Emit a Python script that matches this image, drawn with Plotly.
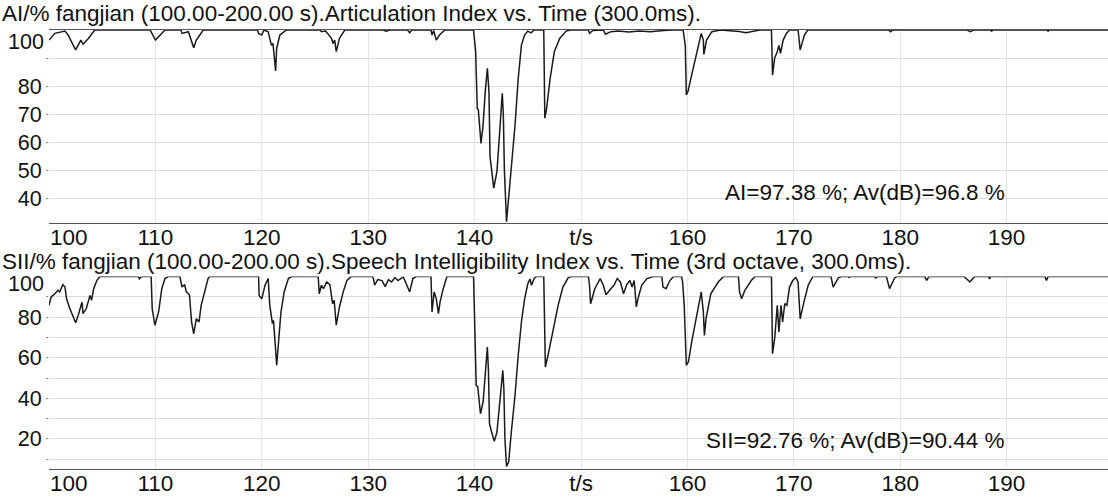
import plotly.graph_objects as go

# ---------------- data ----------------
ai_t = [100.0, 100.55, 101.5, 101.8, 102.5, 102.8, 103.0, 103.2, 103.7, 104.3,
        109.5, 109.6, 110.0, 110.3, 110.9,
        112.4, 112.5, 113.1, 113.4, 113.6, 113.85, 114.5,
        119.6, 119.7, 120.0, 120.2, 120.6, 120.9, 121.05, 121.3, 121.4, 121.7, 122.3,
        125.5, 125.6, 126.0, 126.55, 126.7, 126.85, 127.0, 127.3, 127.8,
        131.4, 131.7, 132.0, 133.7, 133.9, 134.1, 135.9, 136.0, 136.15, 136.4, 136.7, 137.2,
        139.9, 140.1, 140.25, 140.35, 140.6, 140.8, 141.0, 141.2, 141.35, 141.45, 141.8, 142.1,
        142.4, 142.6, 142.7, 142.8, 143.0, 143.3, 143.8, 144.1, 144.4, 144.7, 145.0, 145.3, 145.6,
        146.5, 146.6, 146.75, 147.1, 147.5, 148.0, 148.6, 149.0,
        150.7, 150.8, 151.1, 152.1, 152.3, 152.8, 153.5, 154.5, 155.5, 156.5, 157.5, 158.5,
        159.6, 159.8, 159.9, 160.05, 160.4, 160.9, 161.3, 161.5, 161.55, 161.8, 162.3, 163.1,
        164.9, 165.5, 166.2, 166.8,
        167.9, 168.0, 168.2, 168.45, 168.6, 168.75, 169.0, 169.3, 169.6,
        170.4, 170.6, 171.0, 171.3,
        178.9, 179.1, 179.3, 186.3, 186.6, 186.9, 188.5, 188.6, 188.7, 193.8, 193.9, 194.0, 199.6]
ai_v = [96.4, 98.8, 99.6, 98.2, 92.9, 95.2, 96.4, 94.9, 97.0, 100,
        100, 99.3, 96.4, 97.6, 100,
        100, 98.8, 99.4, 96.4, 93.7, 96.4, 100,
        100, 98.8, 98.2, 100, 99.4, 94.6, 95.2, 85.4, 93.5, 98.2, 100,
        100, 99.4, 99.6, 97.0, 95.2, 96.4, 92.3, 97.0, 100,
        100, 99.6, 100, 100, 99.0, 100, 100, 98.2, 99.8, 96.4, 98.2, 100,
        100, 92.3, 72.0, 71.5, 59.5, 66.0, 78.0, 86.3, 78.0, 54.8, 43.5, 49.4,
        66.0, 77.4, 70.0, 50.0, 31.5, 44.6, 66.0, 82.7, 94.6, 98.2, 99.6, 99.0, 100,
        100, 68.5, 71.5, 82.7, 92.3, 97.0, 99.6, 100,
        100, 98.8, 99.8, 100, 98.5, 99.4, 99.6, 99.3, 99.6, 99.4, 99.7, 100,
        100, 94.6, 76.8, 78.0, 83.9, 92.3, 98.8, 96.4, 91.3, 96.4, 99.4, 100,
        99.5, 99.0, 99.6, 100,
        100, 83.9, 89.9, 92.3, 94.5, 91.7, 96.4, 98.8, 100,
        100, 92.9, 98.2, 100,
        100, 99.4, 100, 100, 99.4, 100, 100, 99.6, 100, 100, 99.6, 100, 100]

sii_t = [100.0, 100.2, 100.55, 100.85, 101.0, 101.3, 101.5, 101.65, 101.9, 102.1, 102.5, 102.75,
         103.1, 103.2, 103.5, 103.85, 104.0, 104.2, 104.5, 104.8,
         108.4, 108.5, 108.7,
         109.6, 109.7, 109.95, 110.3, 110.6, 110.9, 111.2,
         112.3, 112.5, 112.75, 112.9, 113.2, 113.4, 113.6, 113.85, 114.1, 114.3, 114.65, 114.95, 115.1,
         119.7, 119.75, 120.0, 120.3, 120.6, 120.75, 121.0, 121.1, 121.4, 121.6, 121.8, 122.1, 122.5, 122.8,
         125.3, 125.4, 125.6, 125.8, 126.1, 126.4, 126.65, 126.8, 127.0, 127.3, 127.65, 128.0, 128.4,
         130.4, 130.5, 130.6, 130.9, 131.3, 131.6, 131.9, 132.2, 132.5, 132.8, 133.3, 133.9, 134.2, 134.5,
         135.9, 136.0, 136.2, 136.4, 136.6, 136.75, 137.05, 137.4,
         139.9, 140.0, 140.15, 140.3, 140.55, 140.8, 141.05, 141.2, 141.3, 141.4, 141.6, 141.85, 142.1,
         142.4, 142.65, 142.75, 142.85, 143.0, 143.2, 143.45, 143.8, 144.1, 144.4, 144.7, 145.0, 145.2,
         145.35, 145.6, 145.8,
         146.5, 146.65, 146.9, 147.4, 147.85, 148.3, 148.8, 149.1,
         150.7, 150.8, 150.9, 151.3, 151.8, 152.1, 152.35, 152.8, 153.1, 153.4, 153.7, 154.0, 154.3,
         154.6, 154.8, 155.0, 155.2, 155.35, 155.7, 156.2, 156.8,
         157.6, 157.7, 158.0, 158.35, 158.7,
         159.45, 159.55, 159.7, 159.9, 160.1, 160.4, 160.85, 161.3, 161.5, 161.6, 161.75, 162.0, 162.2,
         162.4, 162.9, 163.4,
         164.8, 164.9, 165.1, 165.4, 165.7, 166.0, 166.35,
         167.9, 167.95, 168.0, 168.2, 168.45, 168.6, 168.8, 168.95, 169.15, 169.35, 169.6, 169.9, 170.2,
         170.4, 170.6, 170.95, 171.35, 171.8,
         173.5, 173.7, 174.2, 174.5, 175.1, 175.2, 175.3, 177.6, 177.7, 177.9, 178.7, 179.0, 179.5, 179.7,
         182.3, 182.5, 182.7, 186.0, 186.55, 187.0, 188.3, 188.4, 188.5, 193.6, 193.75, 193.9, 199.6]
sii_v = [85.8, 89.9, 91.5, 93.2, 92.4, 96.0, 94.8, 89.0, 85.0, 82.5, 77.2, 80.9,
         87.4, 81.7, 84.1, 90.7, 88.3, 94.0, 98.1, 100,
         100, 98.8, 100,
         100, 84.1, 76.0, 82.5, 94.0, 99.0, 100,
         100, 94.8, 96.0, 92.4, 91.0, 77.6, 71.8, 79.2, 77.6, 85.8, 93.2, 99.0, 100,
         100, 90.7, 89.0, 95.7, 99.0, 85.8, 76.8, 78.4, 56.3, 69.4, 82.5, 92.4, 99.0, 100,
         100, 91.5, 95.7, 94.0, 97.3, 96.0, 86.6, 88.3, 76.0, 85.0, 92.4, 98.1, 100,
         100, 98.8, 95.7, 98.5, 98.0, 95.0, 98.5, 97.3, 99.5, 98.0, 99.8, 92.4, 99.0, 100,
         100, 82.5, 92.4, 89.0, 81.7, 87.4, 94.0, 100,
         100, 79.2, 46.4, 45.6, 32.4, 38.2, 57.9, 65.3, 53.8, 27.5, 23.4, 18.8, 23.4,
         41.5, 53.8, 44.8, 20.1, 6.5, 8.6, 23.4, 41.5, 61.2, 77.6, 89.0, 96.4, 98.8,
         95.7, 99.0, 100,
         100, 55.4, 61.2, 74.3, 85.8, 94.8, 99.5, 100,
         100, 95.7, 86.6, 94.0, 99.0, 95.7, 91.0, 94.0, 95.7, 99.0, 97.3, 91.5, 96.0,
         98.0, 94.8, 98.0, 85.0, 89.0, 95.7, 99.0, 100,
         100, 94.8, 94.0, 98.0, 100,
         100, 97.3, 85.8, 56.3, 58.0, 67.7, 79.2, 92.4, 82.5, 71.0, 79.2, 86.6, 91.5,
         93.2, 97.3, 100,
         100, 92.4, 89.0, 93.2, 95.7, 98.0, 100,
         100, 80.9, 62.0, 69.4, 85.8, 72.7, 85.8, 77.6, 86.6, 85.8, 94.8, 98.0, 99.5,
         97.3, 79.2, 87.4, 95.7, 100,
         100, 94.8, 99.5, 100, 100, 99.5, 100, 100, 99.3, 100, 100, 94.0, 99.5, 100,
         100, 98.1, 100, 100, 97.3, 100, 100, 98.8, 100, 100, 98.1, 100, 100]

x_ticks = [110, 120, 130, 140, 150, 160, 170, 180, 190]
x_ticktext = ["110", "120", "130", "140", "t/s", "160", "170", "180", "190"]
ai_yticks = [40, 50, 60, 70, 80, 90]
ai_yticktext = ["40", "50", "60", "70", "80", ""]
sii_yticks = [10, 20, 30, 40, 50, 60, 70, 80, 90]
sii_yticktext = ["", "20", "", "40", "", "60", "", "80", ""]

ai_title = "AI/% fangjian (100.00-200.00 s).Articulation Index vs. Time (300.0ms)."
sii_title = "SII/% fangjian (100.00-200.00 s).Speech Intelligibility Index vs. Time (3rd octave, 300.0ms)."
ai_note = "AI=97.38 %; Av(dB)=96.8 %"
sii_note = "SII=92.76 %; Av(dB)=90.44 %"

# ---------------- figure ----------------
W, H = 1108, 497
ML = 49
PW = W - ML
FONT = "Arial, Liberation Sans, sans-serif"
FS = 22.5
FSY = 21.5
TXT = "#111111"

fig = go.Figure()
fig.add_trace(go.Scatter(x=ai_t, y=ai_v, mode="lines", xaxis="x", yaxis="y",
                         line=dict(color="#1a1a1a", width=1.5), showlegend=False))
fig.add_trace(go.Scatter(x=sii_t, y=sii_v, mode="lines", xaxis="x2", yaxis="y2",
                         line=dict(color="#1a1a1a", width=1.5), showlegend=False))

xr = [100, 100 + PW / 10.64]

def py(p):
    return 1 - p / H

def px(p):
    return (p - ML) / PW

xcommon = dict(range=xr, tickvals=x_ticks, ticktext=x_ticktext, showgrid=True,
               gridcolor="#e6e6e6", gridwidth=1, zeroline=False, showline=True,
               linecolor="#555555", linewidth=1.2, ticks="", ticklabelstandoff=-6,
               tickfont=dict(family=FONT, size=FS, color=TXT))
ycommon = dict(showgrid=True, gridcolor="#dcdcdc", gridwidth=1, zeroline=False,
               showline=False, ticks="outside", ticklen=2, tickcolor="#888888",
               tickfont=dict(family=FONT, size=FSY, color=TXT))

fig.update_layout(
    width=W, height=H,
    margin=dict(l=ML, r=0, t=0, b=0),
    paper_bgcolor="white", plot_bgcolor="white",
    xaxis=dict(**xcommon, domain=[0, 1], anchor="y", mirror=True),
    yaxis=dict(**ycommon, domain=[py(223), py(30)], range=[31.07, 100],
               tickvals=ai_yticks, ticktext=ai_yticktext, anchor="x"),
    xaxis2=dict(**xcommon, domain=[0, 1], anchor="y2"),
    yaxis2=dict(**ycommon, domain=[py(469), py(276.5)], range=[5.2, 100],
                tickvals=sii_yticks, ticktext=sii_yticktext, anchor="x2"),
)

def note(text, x, y, xanchor, size=FS):
    return dict(text=text, xref="paper", yref="paper", x=x, y=y,
                xanchor=xanchor, yanchor="middle", showarrow=False, borderpad=0,
                font=dict(family=FONT, size=size, color=TXT))

ann = [
    note(ai_title, px(1), py(14), "left"),
    note(sii_title, px(1), py(261), "left"),
    note(ai_note, px(1006), py(192), "right"),
    note(sii_note, px(1006), py(440), "right"),
    # "100" labels shifted inward as in the original software
    note("100", px(45), py(42), "right", FSY),
    note("100", px(45), py(284), "right", FSY),
    note("100", px(69), py(237), "center"),
    note("100", px(69), py(483), "center"),
]
fig.update_layout(annotations=ann)

fig.write_html("out.html", config={"displayModeBar": False},
               post_script="document.body.style.margin='0px';document.body.style.overflow='hidden';")
